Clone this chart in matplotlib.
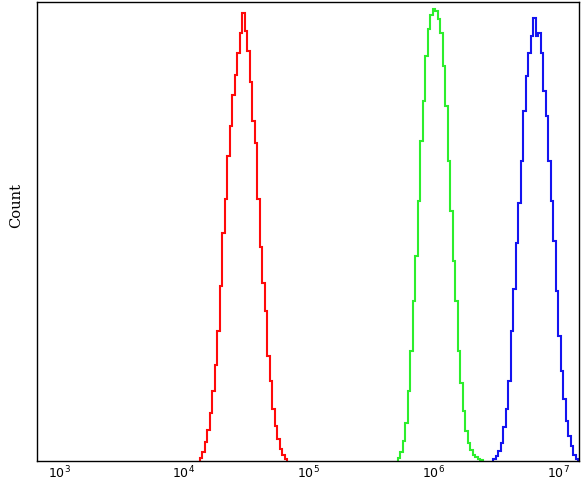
import matplotlib
matplotlib.use("Agg")
import matplotlib.pyplot as plt
import matplotlib.ticker as mticker
import numpy as np

# histogram data: log10 of first bin's left edge, bin width (log10), counts per bin
bin_w = 0.02

red_start = 4.127
red_counts = [3, 9, 19, 31, 48, 70, 96, 130, 175, 228, 262, 305, 335, 366, 386,
              408, 428, 448, 430, 410, 379, 340, 318, 262, 214, 178, 150, 105,
              80, 52, 35, 22, 12, 6, 2]

green_start = 5.712
green_counts = [3, 9, 20, 38, 70, 110, 160, 205, 260, 320, 360, 405, 432, 446,
                452, 450, 442, 428, 395, 355, 300, 250, 200, 160, 110, 78, 50,
                30, 18, 11, 6, 4, 2, 1]

blue_start = 6.476
blue_counts = [2, 5, 10, 18, 34, 52, 80, 130, 172, 218, 258, 300, 350, 385, 408,
               425, 443, 425, 428, 408, 370, 345, 300, 260, 220, 170, 125, 90,
               62, 40, 25, 15, 6, 2]

series = [
    (red_start, red_counts, "#ff0a0a"),
    (green_start, green_counts, "#2cee2c"),
    (blue_start, blue_counts, "#1414f0"),
]

fig = plt.figure(figsize=(5.86, 4.83), dpi=100)
ax = fig.add_axes([37/586, 22/483, 542/586, 459/483])

for start, counts, col in series:
    edges = 10 ** (start + bin_w * np.arange(len(counts) + 1))
    ax.stairs(counts, edges, baseline=0, color=col, linewidth=1.5)

ax.set_xscale("log")
ax.set_xlim(10 ** 2.824, 10 ** 7.164)
ax.set_ylim(0, 459)

ax.xaxis.set_major_locator(mticker.LogLocator(base=10, numticks=10))
ax.xaxis.set_minor_locator(mticker.NullLocator())
ax.tick_params(axis="x", length=0, pad=3, labelsize=9)
ax.set_yticks([])

for sp in ax.spines.values():
    sp.set_linewidth(1.0)

ax.set_ylabel("Count", family="DejaVu Serif", fontsize=10.5)
ax.yaxis.set_label_coords(-0.026, (461 - 205) / 459)

fig.savefig("out.png", dpi=100)
